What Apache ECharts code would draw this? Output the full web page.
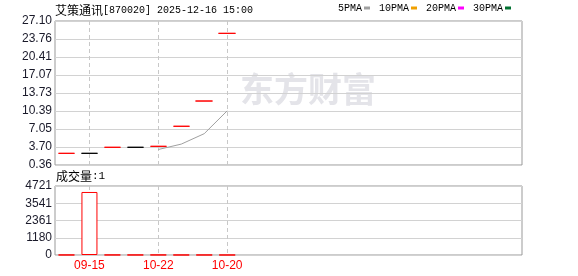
<!DOCTYPE html>
<html>
<head>
<meta charset="utf-8">
<script src="https://cdn.jsdelivr.net/npm/echarts@6/dist/echarts.min.js"></script>
<style>
html,body{margin:0;padding:0;background:#fff;}
#chart{width:578px;height:276px;}
</style>
</head>
<body>
<div id="chart"></div>
<script>
// ---- data ----
var stockName = '艾策通讯';
var stockCode = '870020';
var stamp = '2025-12-16 15:00';
var dayIndex = [0, 1, 2, 3, 4, 5, 6, 7];
var price = [2.53, 2.53, 3.65, 3.65, 3.83, 7.55, 12.24, 24.81]; // open = close = high = low
var ma5 = [null, null, null, null, 3.24, 4.24, 6.18, 10.42];
var volume = [6, 4312, 8, 5, 7, 4, 3, 1];
var dateTickIndex = [1, 4, 7];
var dateTickLabels = ['09-15', '10-22', '10-20'];
var priceTicks = [0.36, 3.70, 7.05, 10.39, 13.73, 17.07, 20.41, 23.76, 27.10];
var volumeTicks = [0, 1180, 2361, 3541, 4721];
var legendNames = ['5PMA', '10PMA', '20PMA', '30PMA'];

var UP = '#ff0000', FLAT = '#000000';
var candleData = dayIndex.map(function (i) {
  var p = price[i];
  var up = (i === 0) || p > price[i - 1];
  var c = up ? UP : FLAT;
  return { value: [i, p, p, p, p], itemStyle: { color: c, color0: c, borderColor: c, borderColor0: c } };
});
var ma5Data = [];
dayIndex.forEach(function (i) { if (ma5[i] != null) ma5Data.push([i, ma5[i]]); });
var volData = dayIndex.map(function (i) { return [i, volume[i]]; });

var chart = echarts.init(document.getElementById('chart'), null, { renderer: 'canvas' });
var numFont = 'Liberation Sans, Arial, sans-serif';
var monoFont = 'Liberation Mono, DejaVu Sans Mono, monospace';
var cjkFont = 'Noto Sans CJK SC, sans-serif';

function xAxisCfg(gridIndex, showLabel) {
  return {
    type: 'value', gridIndex: gridIndex, min: -0.5, max: 19.84,
    axisLine: { show: false }, axisTick: { show: false, customValues: dateTickIndex },
    axisLabel: {
      show: showLabel, customValues: dateTickIndex, margin: 5,
      color: '#ff0000', fontSize: 12, fontFamily: numFont,
      formatter: function (v) { var k = dateTickIndex.indexOf(Math.round(v)); return k >= 0 ? dateTickLabels[k] : ''; }
    },
    splitLine: { show: true, lineStyle: { color: '#c8c8c8', type: [4, 3], width: 1 } }
  };
}
function yAxisCfg(gridIndex, ticks, fmt) {
  return {
    type: 'value', gridIndex: gridIndex, min: ticks[0], max: ticks[ticks.length - 1],
    axisLine: { show: false }, axisTick: { show: false, customValues: ticks },
    axisLabel: { customValues: ticks, margin: 3, color: '#1a1a2a', fontSize: 12, fontFamily: numFont, formatter: fmt },
    splitLine: { show: true, lineStyle: { color: '#d2d2d2', width: 1 } }
  };
}

chart.setOption({
  animation: false,
  backgroundColor: '#ffffff',
  title: [
    {
      text: '{a|' + stockName + '}{b|[' + stockCode + '] ' + stamp + '}',
      left: 55, top: 3, padding: 0,
      textStyle: { fontWeight: 'normal', rich: {
        a: { fontFamily: cjkFont, fontSize: 12, fontWeight: 'normal', color: '#000', lineHeight: 14 },
        b: { fontFamily: monoFont, fontSize: 10, fontWeight: 'normal', color: '#000', lineHeight: 14 }
      } }
    },
    {
      text: '{a|成交量}{b|:' + volume[volume.length - 1] + '}',
      left: 56, top: 169, padding: 0,
      textStyle: { fontWeight: 'normal', rich: {
        a: { fontFamily: cjkFont, fontSize: 12, fontWeight: 'normal', color: '#000', lineHeight: 14 },
        b: { fontFamily: monoFont, fontSize: 11, fontWeight: 'normal', color: '#000', lineHeight: 14 }
      } }
    }
  ],
  legend: {
    data: legendNames, left: 338, top: 3, padding: 0,
    icon: 'rect', itemWidth: 6, itemHeight: 3, itemGap: 9, align: 'right',
    selectedMode: false,
    textStyle: { fontFamily: monoFont, fontSize: 10, color: '#000', padding: [0, -3, 0, 0] }
  },
  graphic: [{
    type: 'text', left: 240, top: 72, z: -100, silent: true,
    style: { text: '东方财富', font: 'bold 34px "Noto Sans CJK SC"', fill: '#e4e4e9' }
  }],
  grid: [
    { left: 55, width: 467, top: 21, height: 144, show: true, borderColor: '#999', borderWidth: 1, backgroundColor: 'transparent' },
    { left: 55, width: 467, top: 186, height: 69, show: true, borderColor: '#999', borderWidth: 1, backgroundColor: 'transparent' }
  ],
  xAxis: [xAxisCfg(0, false), xAxisCfg(1, true)],
  yAxis: [
    yAxisCfg(0, priceTicks, function (v) { return v.toFixed(2); }),
    yAxisCfg(1, volumeTicks, function (v) { return String(Math.round(v)); })
  ],
  series: [
    {
      type: 'candlestick', name: 'K', xAxisIndex: 0, yAxisIndex: 0,
      barWidth: 17, data: candleData,
      encode: { x: 0, y: [1, 2, 3, 4] },
      itemStyle: { borderWidth: 1 }
    },
    {
      type: 'line', name: '5PMA', xAxisIndex: 0, yAxisIndex: 0, data: ma5Data,
      showSymbol: false, symbol: 'none', color: '#a0a0a0', lineStyle: { width: 1, color: '#a0a0a0' }
    },
    { type: 'line', name: '10PMA', xAxisIndex: 0, yAxisIndex: 0, data: [], color: '#f0a000', symbol: 'none' },
    { type: 'line', name: '20PMA', xAxisIndex: 0, yAxisIndex: 0, data: [], color: '#ff00ff', symbol: 'none' },
    { type: 'line', name: '30PMA', xAxisIndex: 0, yAxisIndex: 0, data: [], color: '#007030', symbol: 'none' },
    {
      type: 'bar', name: 'VOL', xAxisIndex: 1, yAxisIndex: 1, data: volData, barWidth: 16,
      itemStyle: { color: '#ffffff', borderColor: '#ff0000', borderWidth: 1 }
    }
  ]
});
</script>
</body>
</html>
